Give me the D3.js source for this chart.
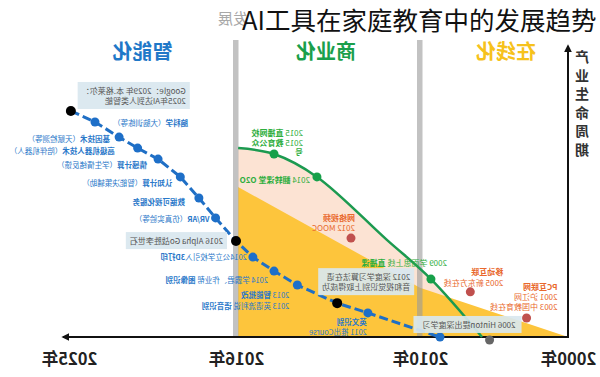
<!DOCTYPE html>
<html>
<head>
<meta charset="utf-8">
<script src="https://cdn.jsdelivr.net/npm/d3@7"></script>
<style>
  body { margin: 0; background: #fff; }
  svg { display: block; font-family: "Noto Sans CJK SC", "Noto Sans", sans-serif; }
</style>
</head>
<body>
<script>
'use strict';
// 整张图是水平镜像的：文字也是镜像的，年份从右往左排

const yearTicks = [2000, 2010, 2016, 2025];
const phaseNames = ['在线化', '商业化', '智能化'];
const phaseSpans = [[2000, 2010], [2010, 2016], [2016, 2025]];
const axisTitle = '产业生命周期';

// 智能化（蓝色虚线）
const smartYears = [2024.9, 2023.6, 2022.3, 2021.3, 2020.2, 2019.0, 2018.0, 2017.1, 2016.0, 2015.45, 2014.76, 2014.0, 2012.7, 2011.7, 2008.65];
const smartLevels = [76.1, 72.4, 67.3, 63.6, 59.9, 53.9, 46.8, 40.1, 32.3, 26.9, 22.2, 17.5, 11.4, 8.1, 0];
const smartKeyEvents = [0, 8, 12]; // 黑点
const smartLabels = [
  [[['Google：2029年 本.格莱尔：', false]], [['2025年AI达到人类智能', false]]],
  [[['脑科学', true], ['（大脑训练等）', false]]],
  [[['基因技术', true], ['（天赋检测等）', false]]],
  [[['高级机器人技术', true], ['（陪伴机器人）', false]]],
  [[['情感计算', true], ['（学生情绪反馈）', false]]],
  [[['认知计算', true], ['（智能决策辅助）', false]]],
  [[['数据可视化服务', true]]],
  [[['VR/AR', true], ['（仿真实验等）', false]]],
  [[['2016 Alpha Go战胜李世石', false]]],
  [[['2014公立学校引入', false], ['3D打印', true]]],
  [[['2014 学霸君、作业帮 ', false], ['图像识别', true]]],
  [[['2013 ', false], ['智能批改', true]], [['2013 英语流利说 ', false], ['语音识别', true]]],
  [[['2012 深度学习算法在语', false]], [['音和视觉识别上取得成功', false]]],
  [[['英文识别', true]], [['2011 推出Course', false]]],
  null
];

// 商业化（绿色曲线）
const bizYears = [2015.93, 2014.76, 2013.36, 2011.08, 2009.26, 2005.81];
const bizLevels = [63.6, 61.6, 53.9, 32.7, 19.5, 0];
const bizEventYears = [2014.76, 2013.36, 2009.26];
const bizEventLevels = [61.6, 53.9, 19.5];
const bizLabels = [
  [[['2015 ', false], ['直播网校', true]], [['2015 ', false], ['教育公众', true]], [['号', true]]],
  [[['2014 ', false], ['翻转课堂 O2O', true]]],
  [[['2009 学而思上线 ', false], ['直播课', true]]]
];

// 在线化（黄色区域）
const onlineYears = [2015.93, 2010, 2000];
const onlineLevels = [50.5, 16.6, 0];
const onlineEventYears = [2012.25, 2006.6, 2002.8];
const onlineEventLevels = [33.3, 15.2, 6.4];
const onlineLabels = [
  [[['网络视频', true]], [['2012 MOOC', false]]],
  [[['移动互联', true]], [['2005 新东方在线', false]]],
  [[['PC互联网', true]], [['2001 沪江网', false]], [['2003 中国教育在线', false]]]
];

// 2006 Hinton
const hintonYear = 2005.3;
const hintonLevel = -1;
const hintonLabel = [[['2006 Hinton提出深度学习', false]]];

// 标签相对圆点的偏移 [dx, dy, 行高]
const smartOffsets = [[115, -17, 10], [93, 4], [-9, 5], [-23, 6], [-11, 9], [-8, 9], [-14, 7], [-6, 4],
  [-13, 3], [-6, 3], [-6, 12], [-8, 13, 11], [73, -23, 10], [-1, 12, 10], null];
const boxedSmart = [0, 8, 12];
const bizOffsets = [[29, -18, 9.5], [-7, 6], [16, -13]];
const onlineOffsets = [[4, -17, 10], [33, -17, 11], [31, -28, 9.8]];

const W = 600, H = 377;
const svg = d3.select(document.body).append('svg').attr('width', W).attr('height', H);

const xScale = d3.scaleLinear().domain(yearTicks).range([568, 420, 236, 69]);
const yScale = d3.scaleLinear().domain([0, 100]).range([337, 40]);

const defs = svg.append('defs');
defs.append('marker').attr('id', 'arrow')
  .attr('viewBox', '0 0 10 10').attr('refX', 8).attr('refY', 5)
  .attr('markerWidth', 4).attr('markerHeight', 4).attr('orient', 'auto')
  .append('path').attr('d', 'M0,0 L10,5 L0,10 z').attr('fill', '#111');

// 镜像文字
function mirrorText(parent, x, y, lines, opt) {
  const g = parent.append('g').attr('transform', `translate(${x},${y}) scale(-1,1)`);
  const rect = opt.box ? g.append('rect') : null;
  const t = g.append('text')
    .attr('font-size', opt.size)
    .attr('fill', opt.color)
    .attr('text-anchor', opt.anchor || 'start');
  lines.forEach(function(parts, i){
    const line = t.append('tspan').attr('x', 0).attr('y', i * (opt.lh || 10));
    parts.forEach(function(p){
      line.append('tspan').text(p[0]).attr('font-weight', p[1] ? 'bold' : 'normal');
    });
  });
  if (rect) {
    const b = t.node().getBBox();
    const pl = opt.padL || 4, pr = opt.padR || 4;
    rect.attr('x', b.x - pl).attr('y', b.y - 3)
      .attr('width', b.width + pl + pr).attr('height', b.height + 6)
      .attr('fill', '#d9e7ef').attr('opacity', 0.92);
  }
  return g;
}

// 区域
const bizPts = bizYears.map((d, i) => [d, bizLevels[i]]);
const onlinePts = onlineYears.map((d, i) => [d, onlineLevels[i]]);
const smartPts = smartYears.map((d, i) => [d, smartLevels[i]]);

const curve = d3.curveCatmullRom.alpha(0.5);
svg.append('path')
  .attr('d', d3.area().x(d => xScale(d[0])).y0(yScale(0)).y1(d => yScale(d[1])).curve(curve)(bizPts))
  .attr('fill', '#fce3d3');
svg.append('path')
  .attr('d', d3.area().x(d => xScale(d[0])).y0(yScale(0)).y1(d => yScale(d[1]))(onlinePts))
  .attr('fill', '#fdc53c');

// 灰色竖条
svg.append('g').selectAll('rect')
  .data([2016, 2010]).enter()
  .append('rect')
  .attr('x', d => xScale(d) - 3)
  .attr('y', yScale(100))
  .attr('width', 5.5)
  .attr('height', yScale(0) - yScale(100))
  .attr('fill', '#9a9a9a').attr('opacity', 0.6);

// 标题
mirrorText(svg, 248, 24, [[['发展', false]]], {size: 15, color: '#a8a8a8'});
svg.append('text')
  .attr('x', 242).attr('y', 30)
  .attr('font-size', 25.5).attr('fill', '#111')
  .text('AI工具在家庭教育中的发展趋势');

// 阶段标题
const phaseColors = ['#f6c21c', '#1a9f4b', '#1f78c8'];
const phaseDx = [12, -2, -10];
phaseNames.forEach(function(name, i){
  const cx = (xScale(phaseSpans[i][0]) + xScale(phaseSpans[i][1])) / 2 + phaseDx[i];
  mirrorText(svg, cx, 59, [[[name, true]]], {size: 20, color: phaseColors[i], anchor: 'middle'});
});

// 坐标轴
svg.append('path')
  .attr('d', d3.line()([[xScale(2000), yScale(0)], [63, yScale(0)]]))
  .attr('stroke', '#111').attr('stroke-width', 2).attr('marker-end', 'url(#arrow)');
svg.append('path')
  .attr('d', d3.line()([[xScale(2000), yScale(0) + 1], [xScale(2000), yScale(98)]]))
  .attr('stroke', '#111').attr('stroke-width', 2).attr('marker-end', 'url(#arrow)');

const xAxis = d3.axisBottom(xScale).tickValues(yearTicks).tickFormat(d => d + '年').tickSize(0).tickPadding(16);
const xg = svg.append('g').attr('transform', `translate(0,${yScale(0)})`).call(xAxis);
xg.select('.domain').remove();
xg.selectAll('text')
  .attr('transform', 'scale(-1,1)')
  .attr('font-size', 16.5).attr('font-weight', 'bold')
  .attr('fill', '#222')
  .attr('font-family', '"Noto Sans CJK SC", sans-serif');

axisTitle.split('').forEach(function(ch, i){
  mirrorText(svg, 582, 62 + i * 18.5, [[[ch, true]]], {size: 14, color: '#333', anchor: 'middle'});
});

// 商业化曲线
svg.append('path')
  .attr('d', d3.line().x(d => xScale(d[0])).y(d => yScale(d[1])).curve(curve)(bizPts))
  .attr('fill', 'none').attr('stroke', '#1c9a50').attr('stroke-width', 2.5);

// 智能化虚线
svg.append('path')
  .attr('d', d3.line().x(d => xScale(d[0])).y(d => yScale(d[1]))(smartPts))
  .attr('fill', 'none').attr('stroke', '#1f6fc5').attr('stroke-width', 3)
  .attr('stroke-dasharray', '9,4');

// 圆点
svg.append('g').selectAll('circle')
  .data(smartPts).enter()
  .append('circle')
  .attr('cx', d => xScale(d[0])).attr('cy', d => yScale(d[1]))
  .attr('r', (d, i) => smartKeyEvents.includes(i) ? 5 : 4.5)
  .attr('fill', (d, i) => smartKeyEvents.includes(i) ? '#000' : '#1e6fc8');

svg.append('g').selectAll('circle')
  .data(bizEventYears).enter()
  .append('circle')
  .attr('cx', d => xScale(d)).attr('cy', (d, i) => yScale(bizEventLevels[i]))
  .attr('r', 4.5).attr('fill', '#17a04a');

svg.append('g').selectAll('circle')
  .data(onlineEventYears).enter()
  .append('circle')
  .attr('cx', d => xScale(d)).attr('cy', (d, i) => yScale(onlineEventLevels[i]))
  .attr('r', 4.5).attr('fill', '#c0504d');

svg.append('circle')
  .attr('cx', xScale(hintonYear)).attr('cy', yScale(hintonLevel))
  .attr('r', 4.5).attr('fill', '#666');

// 标签
smartLabels.forEach(function(lines, i){
  if (!lines) return;
  const o = smartOffsets[i];
  const boxed = boxedSmart.includes(i);
  mirrorText(svg, xScale(smartYears[i]) + o[0], yScale(smartLevels[i]) + o[1], lines, {
    size: boxed ? 8 : 7.5,
    color: boxed ? '#555' : '#2a78c9',
    lh: o[2] || 10,
    box: boxed
  });
});

bizLabels.forEach(function(lines, i){
  const o = bizOffsets[i];
  mirrorText(svg, xScale(bizEventYears[i]) + o[0], yScale(bizEventLevels[i]) + o[1], lines, {
    size: 8, color: '#2fae3e', lh: o[2] || 10
  });
});

onlineLabels.forEach(function(lines, i){
  const o = onlineOffsets[i];
  mirrorText(svg, xScale(onlineEventYears[i]) + o[0], yScale(onlineEventLevels[i]) + o[1], lines, {
    size: 8, color: '#e9682c', lh: o[2] || 10
  });
});

mirrorText(svg, xScale(hintonYear) + 26, yScale(hintonLevel) - 12, hintonLabel, {
  size: 8, color: '#555', box: true, padL: 6, padR: 9
});
</script>
</body>
</html>
